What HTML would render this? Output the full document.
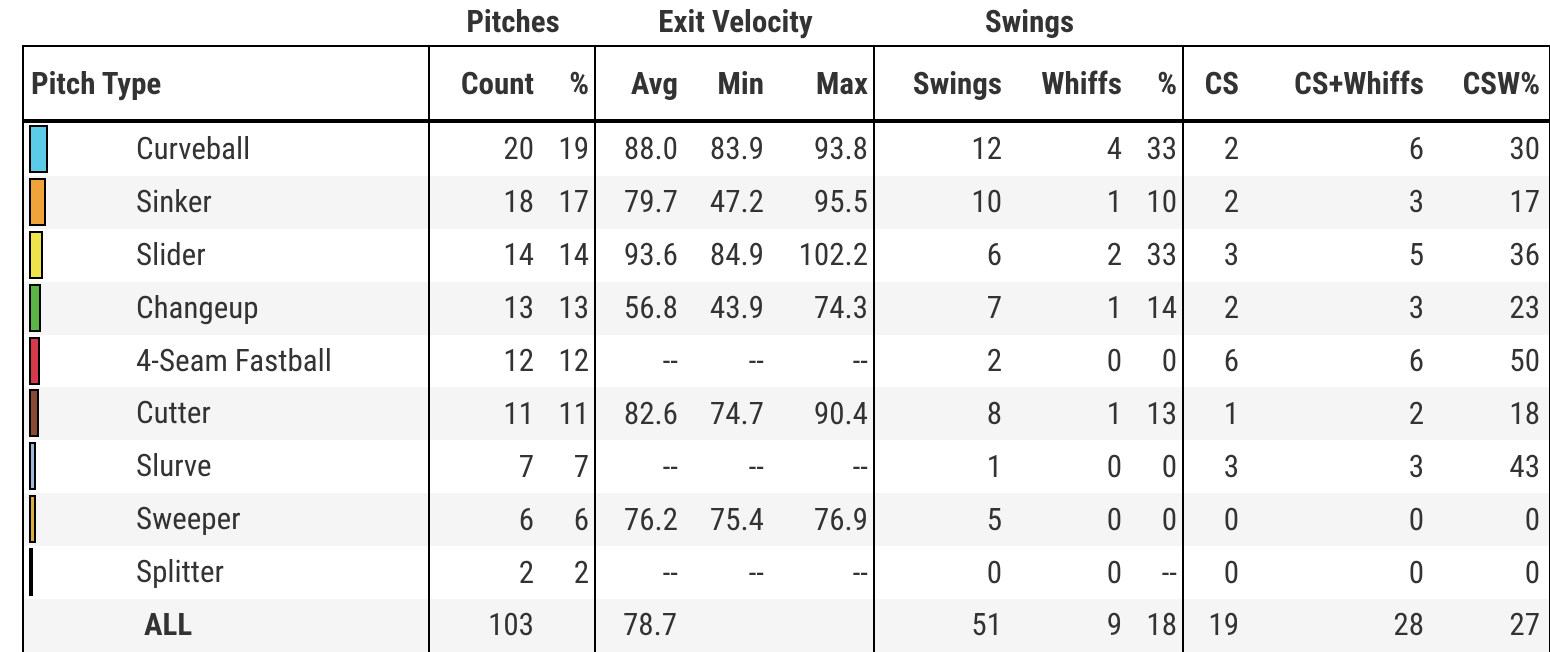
<!DOCTYPE html>
<html><head><meta charset="utf-8"><style>
body{margin:0;width:1550px;height:652px;overflow:hidden;background:#fff;font-family:"Roboto Condensed","Liberation Sans Narrow","Liberation Sans",sans-serif;color:#333;}
.g{position:absolute;top:4px;font-weight:bold;font-size:31px;line-height:36px;text-align:center;color:#333}
table{position:absolute;left:22px;top:45px;border-collapse:collapse;table-layout:fixed;width:1527px;border-left:2px solid #000;border-right:2px solid #000;border-top:2px solid #000}
td,th{padding:0;text-align:right;font-size:31px;white-space:nowrap;overflow:visible}
th{height:72px;font-weight:bold;border-bottom:4px solid #000;font-size:31px}
td{height:52.9px;line-height:52px}
tr:nth-child(odd) td{background:#f5f5f5}
.b{border-left:2px solid #000}
.p{padding-right:5px}
.n{text-align:left;position:relative}
.n span{position:absolute;left:112px;top:0}
.bar{position:absolute;left:5px;top:2px;height:48px;border:2px solid #000;box-sizing:border-box}
</style></head><body>
<div class="g" style="left:430px;width:166px">Pitches</div>
<div class="g" style="left:596px;width:279px">Exit Velocity</div>
<div class="g" style="left:875px;width:309px">Swings</div>
<table>
<colgroup><col style="width:406px"><col style="width:110px"><col style="width:56px"><col style="width:88px"><col style="width:86px"><col style="width:105px"><col style="width:133px"><col style="width:120px"><col style="width:56px"><col style="width:61px"><col style="width:185px"><col style="width:121px"></colgroup>
<tr><th class="n" style="padding-left:7px">Pitch Type</th><th class="b p">Count</th><th class="p">%</th><th class="b p">Avg</th><th class="p">Min</th><th class="p">Max</th><th class="b p">Swings</th><th class="p">Whiffs</th><th class="p">%</th><th class="b p">CS</th><th class="p">CS+Whiffs</th><th style="padding-right:9px">CSW%</th></tr>
<tr><td class="n"><div class="bar" style="width:19px;background:#5bcbe8"></div><span>Curveball</span></td><td class="b p">20</td><td class="p">19</td><td class="b p">88.0</td><td class="p">83.9</td><td class="p">93.8</td><td class="b p">12</td><td class="p">4</td><td class="p">33</td><td class="b p">2</td><td class="p">6</td><td style="padding-right:9px">30</td></tr>
<tr><td class="n"><div class="bar" style="width:17px;background:#f0a33a"></div><span>Sinker</span></td><td class="b p">18</td><td class="p">17</td><td class="b p">79.7</td><td class="p">47.2</td><td class="p">95.5</td><td class="b p">10</td><td class="p">1</td><td class="p">10</td><td class="b p">2</td><td class="p">3</td><td style="padding-right:9px">17</td></tr>
<tr><td class="n"><div class="bar" style="width:14px;background:#eee34a"></div><span>Slider</span></td><td class="b p">14</td><td class="p">14</td><td class="b p">93.6</td><td class="p">84.9</td><td class="p">102.2</td><td class="b p">6</td><td class="p">2</td><td class="p">33</td><td class="b p">3</td><td class="p">5</td><td style="padding-right:9px">36</td></tr>
<tr><td class="n"><div class="bar" style="width:12px;background:#5ab544"></div><span>Changeup</span></td><td class="b p">13</td><td class="p">13</td><td class="b p">56.8</td><td class="p">43.9</td><td class="p">74.3</td><td class="b p">7</td><td class="p">1</td><td class="p">14</td><td class="b p">2</td><td class="p">3</td><td style="padding-right:9px">23</td></tr>
<tr><td class="n"><div class="bar" style="width:11px;background:#d63a4a"></div><span>4-Seam Fastball</span></td><td class="b p">12</td><td class="p">12</td><td class="b p">--</td><td class="p">--</td><td class="p">--</td><td class="b p">2</td><td class="p">0</td><td class="p">0</td><td class="b p">6</td><td class="p">6</td><td style="padding-right:9px">50</td></tr>
<tr><td class="n"><div class="bar" style="width:10px;background:#8b4a33"></div><span>Cutter</span></td><td class="b p">11</td><td class="p">11</td><td class="b p">82.6</td><td class="p">74.7</td><td class="p">90.4</td><td class="b p">8</td><td class="p">1</td><td class="p">13</td><td class="b p">1</td><td class="p">2</td><td style="padding-right:9px">18</td></tr>
<tr><td class="n"><div class="bar" style="width:7px;background:#9fb7d8"></div><span>Slurve</span></td><td class="b p">7</td><td class="p">7</td><td class="b p">--</td><td class="p">--</td><td class="p">--</td><td class="b p">1</td><td class="p">0</td><td class="p">0</td><td class="b p">3</td><td class="p">3</td><td style="padding-right:9px">43</td></tr>
<tr><td class="n"><div class="bar" style="width:7px;background:#d8b040"></div><span>Sweeper</span></td><td class="b p">6</td><td class="p">6</td><td class="b p">76.2</td><td class="p">75.4</td><td class="p">76.9</td><td class="b p">5</td><td class="p">0</td><td class="p">0</td><td class="b p">0</td><td class="p">0</td><td style="padding-right:9px">0</td></tr>
<tr><td class="n"><div class="bar" style="width:4px;background:#000"></div><span>Splitter</span></td><td class="b p">2</td><td class="p">2</td><td class="b p">--</td><td class="p">--</td><td class="p">--</td><td class="b p">0</td><td class="p">0</td><td class="p">--</td><td class="b p">0</td><td class="p">0</td><td style="padding-right:9px">0</td></tr>
<tr><td class="n"><span style="left:120px;font-weight:bold">ALL</span></td><td class="b p">103</td><td class="p"></td><td class="b p" style="text-align:left;padding-left:27px">78.7</td><td class="p"></td><td class="p"></td><td class="b p">51</td><td class="p">9</td><td class="p">18</td><td class="b p">19</td><td class="p">28</td><td style="padding-right:9px">27</td></tr>
</table>
</body></html>
